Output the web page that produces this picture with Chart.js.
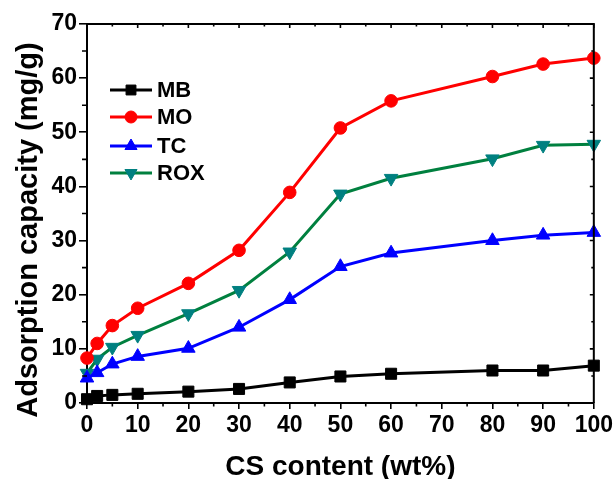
<!DOCTYPE html>
<html>
<head>
<meta charset="utf-8">
<script src="https://cdn.jsdelivr.net/npm/chart.js@4/dist/chart.umd.min.js"></script>
<style>
  html, body { margin: 0; padding: 0; background: #fff; }
  #wrap { width: 616px; height: 479px; }
</style>
</head>
<body>
<div id="wrap"><canvas id="c" width="616" height="479"></canvas></div>
<script>
const csContent = [0, 2, 5, 10, 20, 30, 40, 50, 60, 80, 90, 100];
const seriesNames = ["MB", "MO", "TC", "ROX"];
const mbValues  = [0.7, 1.3, 1.5, 1.7, 2.1, 2.6, 3.8, 4.9, 5.4, 6.0, 6.0, 6.9];
const moValues  = [8.3, 11.0, 14.3, 17.5, 22.1, 28.2, 38.9, 50.8, 55.8, 60.3, 62.6, 63.7];
const tcValues  = [4.6, 5.6, 7.2, 8.6, 10.1, 14.0, 19.1, 25.2, 27.7, 30.0, 31.0, 31.5];
const roxValues = [5.5, 8.1, 10.3, 12.5, 16.5, 20.8, 27.9, 38.6, 41.5, 45.1, 47.6, 47.8];
const xTickValues = [0, 10, 20, 30, 40, 50, 60, 70, 80, 90, 100];
const yTickValues = [0, 10, 20, 30, 40, 50, 60, 70];
const xTitle = "CS content (wt%)";
const yTitle = "Adsorption capacity (mg/g)";

const FONT = '"Liberation Sans", Arial, sans-serif';
const toXY = vals => csContent.map((x, i) => ({ x: x, y: vals[i] }));

const styles = [
  { line: "#000000", fill: "#000000", shape: "rect", r: 7.8, rot: 0 },
  { line: "#FF0000", fill: "#FF0000", shape: "circle", r: 6.3, rot: 0 },
  { line: "#0000FF", fill: "#0000FF", shape: "triangle", r: 7.8, rot: 0 },
  { line: "#00803F", fill: "#008080", shape: "triangle", r: 7.8, rot: 180 }
];
const allValues = [mbValues, moValues, tcValues, roxValues];

const datasets = seriesNames.map((name, i) => ({
  label: name,
  data: toXY(allValues[i]),
  borderColor: styles[i].line,
  backgroundColor: styles[i].fill,
  borderWidth: 3,
  pointStyle: styles[i].shape,
  pointRadius: styles[i].r,
  pointHoverRadius: styles[i].r,
  pointRotation: styles[i].rot,
  pointBackgroundColor: styles[i].fill,
  pointBorderColor: styles[i].fill,
  pointBorderWidth: 1,
  tension: 0,
  clip: false
}));

const framePlugin = {
  id: "frame",
  afterDraw(chart) {
    const ctx = chart.ctx;
    const a = chart.chartArea;
    const xs = chart.scales.x, ys = chart.scales.y;
    ctx.save();
    ctx.strokeStyle = "#000";
    ctx.lineWidth = 2;
    ctx.beginPath();
    ctx.moveTo(a.left, a.top); ctx.lineTo(a.right, a.top); ctx.lineTo(a.right, a.bottom);
    ctx.stroke();
    ctx.lineWidth = 1.6;
    ctx.beginPath();
    for (let v = 0; v <= 100; v += 5) {
      const px = xs.getPixelForValue(v);
      const major = v % 10 === 0;
      if (!major) { ctx.moveTo(px, a.bottom); ctx.lineTo(px, a.bottom + 3.5); }
      ctx.moveTo(px, a.top); ctx.lineTo(px, a.top + (major ? 4 : 2.5));
    }
    for (let v = 0; v <= 70; v += 5) {
      const py = ys.getPixelForValue(v);
      const major = v % 10 === 0;
      if (!major) { ctx.moveTo(a.left, py); ctx.lineTo(a.left - 5, py); }
      ctx.moveTo(a.right, py); ctx.lineTo(a.right - (major ? 4 : 2.5), py);
    }
    ctx.stroke();

    ctx.fillStyle = "#000";
    ctx.font = "bold 28px " + FONT;
    ctx.textAlign = "center";
    ctx.textBaseline = "alphabetic";
    ctx.fillText(xTitle, (a.left + a.right) / 2, 475);
    ctx.save();
    ctx.translate(36.5, 230);
    ctx.rotate(-Math.PI / 2);
    ctx.font = "bold 29px " + FONT;
    ctx.fillText(yTitle, 0, 0);
    ctx.restore();

    const legY = [90, 117, 146, 173];
    chart.data.datasets.forEach((ds, i) => {
      const y = legY[i];
      ctx.strokeStyle = ds.borderColor;
      ctx.lineWidth = 3;
      ctx.beginPath(); ctx.moveTo(110, y); ctx.lineTo(152, y); ctx.stroke();
      ctx.fillStyle = ds.pointBackgroundColor;
      ctx.strokeStyle = ds.pointBorderColor;
      ctx.lineWidth = 1;
      Chart.helpers.drawPoint(ctx, {
        pointStyle: ds.pointStyle,
        rotation: ds.pointRotation,
        radius: ds.pointStyle === "circle" ? 6 : 7,
        borderWidth: 1
      }, 131, y);
      ctx.fillStyle = "#000";
      ctx.font = "bold 22px " + FONT;
      ctx.textAlign = "left";
      ctx.textBaseline = "middle";
      ctx.fillText(ds.label, 157, y + 1);
    });
    ctx.restore();
  }
};

new Chart(document.getElementById("c"), {
  type: "line",
  data: { datasets: datasets },
  options: {
    responsive: false,
    animation: false,
    layout: { padding: { top: 24, right: 19, left: 0, bottom: 0 } },
    plugins: { legend: { display: false }, tooltip: { enabled: false } },
    scales: {
      x: {
        type: "linear",
        min: 0, max: 100,
        afterBuildTicks: s => { s.ticks = xTickValues.map(v => ({ value: v })); },
        afterFit: s => { s.height = 76; },
        ticks: { color: "#000", font: { family: FONT, size: 23, weight: "bold" }, padding: 3, maxRotation: 0, autoSkip: false },
        grid: { drawOnChartArea: false, drawTicks: true, tickLength: 6, color: "#000", lineWidth: 1.6 },
        border: { display: true, color: "#000", width: 2 }
      },
      y: {
        type: "linear",
        min: 0, max: 70,
        afterBuildTicks: s => { s.ticks = yTickValues.map(v => ({ value: v })); },
        afterFit: s => { s.width = 87; },
        ticks: { color: "#000", font: { family: FONT, size: 23, weight: "bold" }, padding: 2, autoSkip: false },
        grid: { drawOnChartArea: false, drawTicks: true, tickLength: 8, color: "#000", lineWidth: 1.6 },
        border: { display: true, color: "#000", width: 2 }
      }
    }
  },
  plugins: [framePlugin]
});
</script>
</body>
</html>
